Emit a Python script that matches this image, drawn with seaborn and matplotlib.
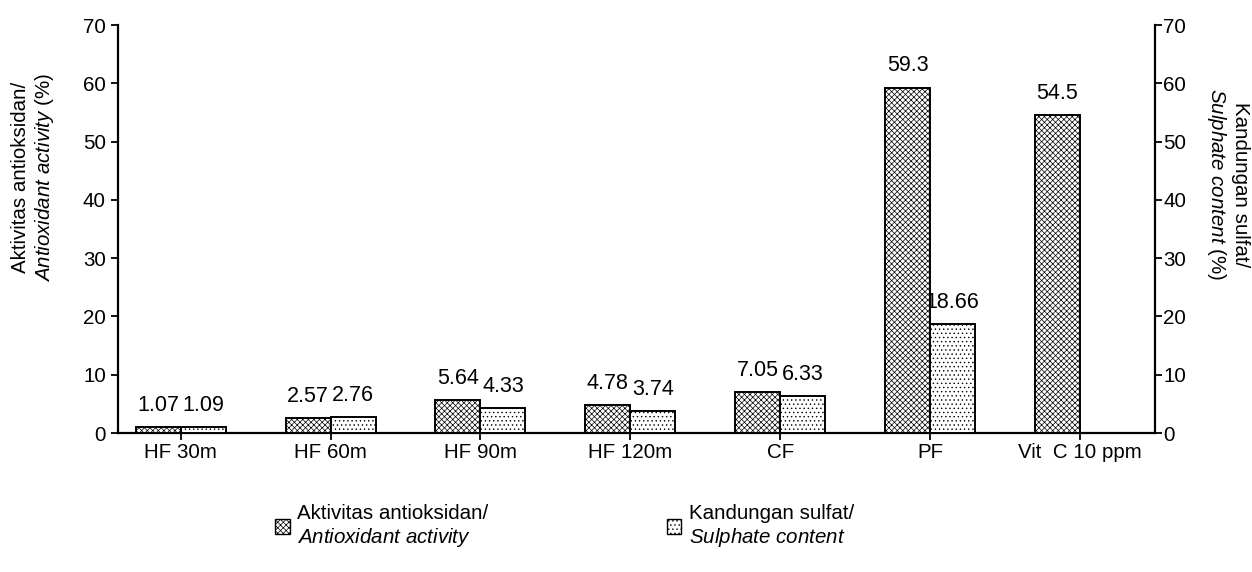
import pandas as pd
import matplotlib
matplotlib.use("Agg")
import matplotlib.pyplot as plt
import seaborn as sns
from matplotlib.patches import Patch

# Data

categories = ["HF 30m", "HF 60m", "HF 90m", "HF 120m", "CF", "PF", "Vit  C 10 ppm"]
antioxidant = [1.07, 2.57, 5.64, 4.78, 7.05, 59.3, 54.5]
sulphate = [1.09, 2.76, 4.33, 3.74, 6.33, 18.66, None]
antioxidant_labels = ["1.07", "2.57", "5.64", "4.78", "7.05", "59.3", "54.5"]
sulphate_labels = ["1.09", "2.76", "4.33", "3.74", "6.33", "18.66", ""]

series_names = [
    "Aktivitas antioksidan/\n$\\mathit{Antioxidant\\ activity}$",
    "Kandungan sulfat/\n$\\mathit{Sulphate\\ content}$",
]
hatches = ["xxxxxx", "...."]

FS = 14.8

sns.set_style("white")
plt.rcParams["font.family"] = ["Liberation Sans", "DejaVu Sans"]
plt.rcParams["mathtext.fontset"] = "custom"
plt.rcParams["mathtext.it"] = "Liberation Sans:italic"
plt.rcParams["mathtext.rm"] = "Liberation Sans"
plt.rcParams["hatch.linewidth"] = 0.5
plt.rcParams["hatch.color"] = "#555555"
plt.rcParams["text.color"] = "black"
plt.rcParams["axes.labelcolor"] = "black"

df = pd.DataFrame({
    "Category": categories * 2,
    "Value": antioxidant + sulphate,
    "Series": [series_names[0]] * len(categories) + [series_names[1]] * len(categories),
})

fig = plt.figure(figsize=(12.52, 5.72), dpi=100)
ax = fig.add_axes([0.094, 0.243, 0.8285, 0.713])

sns.barplot(
    data=df,
    x="Category",
    y="Value",
    hue="Series",
    palette=["white", "white"],
    edgecolor="black",
    linewidth=1.4,
    width=0.6,
    legend=False,
    ax=ax,
)

# hatches and value labels (labels sit under the bars, like the original)
for container, hatch, labels in zip(ax.containers, hatches, [antioxidant_labels, sulphate_labels]):
    for bar, lab in zip(container, labels):
        if bar is None or lab == "":
            continue
        bar.set_hatch(hatch)
        bar.set_zorder(3)
        ax.annotate(lab, (bar.get_x() + bar.get_width() / 2, bar.get_height()),
                    xytext=(0, 8), textcoords="offset points",
                    ha="center", va="bottom", fontsize=15.5, zorder=1)

ax.set_ylim(0, 70)
ax.set_xlim(-0.42, 6.5)
ax.set_yticks(range(0, 71, 10))
ax.set_xlabel("")
ax.set_ylabel("Aktivitas antioksidan/\n$\\mathit{Antioxidant\\ activity}$ (%)", fontsize=FS)
ax.yaxis.set_label_coords(-0.059, 0.627)

for side in ["top", "right"]:
    ax.spines[side].set_visible(False)
for side in ["left", "bottom"]:
    ax.spines[side].set_linewidth(1.6)
    ax.spines[side].set_color("black")

ax.tick_params(axis="both", labelsize=FS, direction="out", length=5, width=1.3,
               colors="black", left=True, bottom=True)
ax.tick_params(axis="x", pad=2)

# right axis, same scale
ax2 = ax.twinx()
ax2.set_ylim(0, 70)
ax2.set_yticks(range(0, 71, 10))
for side in ["top", "left", "bottom"]:
    ax2.spines[side].set_visible(False)
ax2.spines["right"].set_linewidth(1.6)
ax2.spines["right"].set_color("black")
ax2.tick_params(axis="y", labelsize=FS, direction="out", length=5, width=1.3, pad=1,
                colors="black")
ax2.set_ylabel("Kandungan sulfat/\n$\\mathit{Sulphate\\ content}$ (%)", fontsize=FS,
               rotation=270, va="center")
ax2.yaxis.set_label_coords(1.070, 0.61)

handles = [Patch(facecolor="white", edgecolor="black", hatch=h, label=n)
           for h, n in zip(hatches, series_names)]
fig.legend(
    handles=handles,
    loc="center",
    bbox_to_anchor=(0.451, 0.08),
    ncol=2,
    frameon=False,
    fontsize=FS,
    handlelength=0.7,
    handleheight=0.7,
    handletextpad=0.35,
    columnspacing=8.7,
)

fig.savefig("out.png", dpi=100)
plt.close()
